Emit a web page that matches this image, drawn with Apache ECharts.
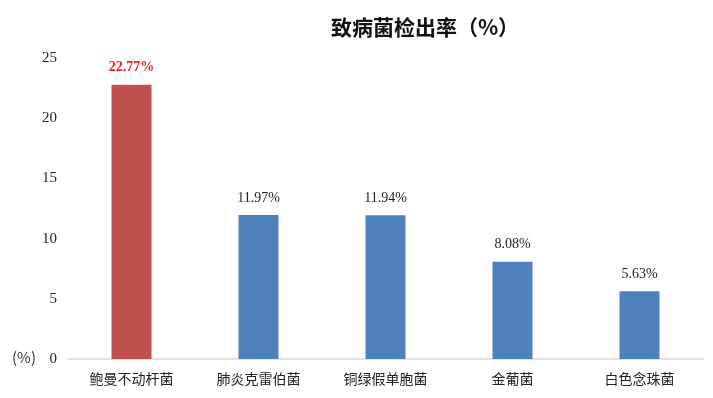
<!DOCTYPE html>
<html>
<head>
<meta charset="utf-8">
<script src="https://cdn.jsdelivr.net/npm/echarts@6/dist/echarts.min.js"></script>
<style>
  html, body { margin: 0; padding: 0; background: #fff; }
  #main { width: 713px; height: 398px; }
</style>
</head>
<body>
<div id="main"></div>
<script>
const categories = ['鲍曼不动杆菌', '肺炎克雷伯菌', '铜绿假单胞菌', '金葡菌', '白色念珠菌']
const rates = [22.77, 11.97, 11.94, 8.08, 5.63]
const yTicks = [0, 5, 10, 15, 20, 25]

const chart = echarts.init(document.getElementById('main'))

const option = {
  animation: false,
  title: {
    text: '致病菌检出率（%）',
    left: 420,
    top: 12,
    textAlign: 'center',
    textStyle: {
      fontFamily: 'Noto Sans CJK SC',
      fontSize: 21,
      fontWeight: 'bold',
      color: '#111'
    }
  },
  grid: { left: 68, right: 10, top: 58, bottom: 39, containLabel: false },
  xAxis: {
    type: 'category',
    data: categories,
    axisLine: { lineStyle: { color: '#d9d9d9', width: 1.5 } },
    axisTick: { show: false },
    axisLabel: {
      fontFamily: 'Noto Sans CJK SC',
      fontSize: 14,
      color: '#222',
      margin: 13
    }
  },
  yAxis: {
    type: 'value',
    min: yTicks[0],
    max: yTicks[yTicks.length - 1],
    interval: 5,
    name: '(%)',
    nameLocation: 'start',
    nameGap: 0,
    nameTextStyle: {
      fontFamily: 'Noto Sans CJK SC',
      fontSize: 15,
      color: '#333',
      align: 'right',
      verticalAlign: 'bottom',
      padding: [0, 32, -6, 0]
    },
    axisLine: { show: false },
    axisTick: { show: false },
    splitLine: { show: false },
    axisLabel: {
      fontFamily: 'Liberation Serif',
      fontSize: 15,
      color: '#222',
      margin: 11
    }
  },
  series: [{
    type: 'bar',
    barWidth: 40,
    data: rates.map((v, i) => ({
      value: v,
      itemStyle: { color: i === 0 ? '#C0504D' : '#4F81BD' },
      label: i === 0 ? { color: '#ff1a1a', fontWeight: 'bold' } : {}
    })),
    label: {
      show: true,
      position: 'top',
      distance: 10,
      fontFamily: 'Liberation Serif',
      fontSize: 14,
      color: '#222',
      formatter: p => p.value.toFixed(2) + '%'
    }
  }]
}

chart.setOption(option)
</script>
</body>
</html>
